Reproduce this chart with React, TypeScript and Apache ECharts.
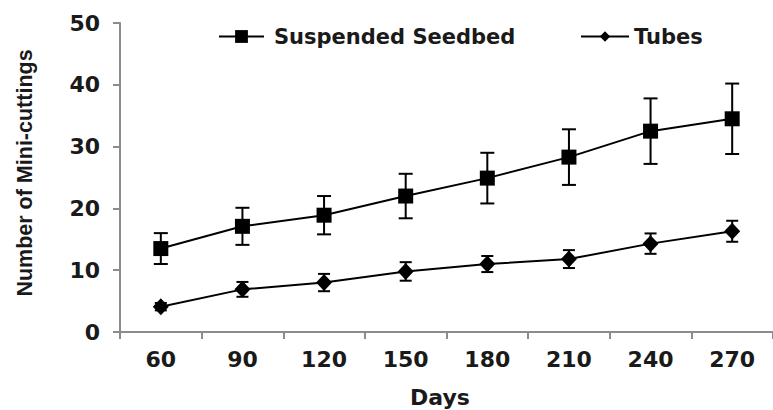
import React, { useEffect, useRef } from "react";
import * as echarts from "echarts";

const days = ["60", "90", "120", "150", "180", "210", "240", "270"];
const seedbed = [13.5, 17.1, 18.9, 22.0, 24.9, 28.3, 32.5, 34.5];
const seedbedErr = [2.5, 3.0, 3.1, 3.6, 4.1, 4.5, 5.3, 5.7];
const tubes = [4.1, 6.9, 8.0, 9.8, 11.0, 11.8, 14.3, 16.3];
const tubesErr = [0.6, 1.2, 1.4, 1.5, 1.3, 1.45, 1.65, 1.7];
const yTicks = { min: 0, max: 50, interval: 10 };
const names = { seedbed: "Suspended Seedbed", tubes: "Tubes", x: "Days", y: "Number of Mini-cuttings" };

const errorSeries = (vals: number[], errs: number[], hw: number) => ({
  type: "custom",
  silent: true,
  z: 3,
  encode: { x: 0, y: [1, 2] },
  data: vals.map((v, i) => [i, v - errs[i], v + errs[i]]),
  renderItem: (params: any, api: any) => {
    const x = api.value(0);
    const top = api.coord([x, api.value(2)]);
    const bot = api.coord([x, api.value(1)]);
    const st = { stroke: "#000", lineWidth: 2 };
    return {
      type: "group",
      children: [
        { type: "line", shape: { x1: top[0], y1: top[1], x2: bot[0], y2: bot[1] }, style: st },
        { type: "line", shape: { x1: top[0] - hw, y1: top[1], x2: top[0] + hw, y2: top[1] }, style: st },
        { type: "line", shape: { x1: bot[0] - hw, y1: bot[1], x2: bot[0] + hw, y2: bot[1] }, style: st },
      ],
    };
  },
});

export default function App() {
  const ref = useRef<HTMLDivElement>(null);
  useEffect(() => {
    const chart = echarts.init(ref.current!, null, { renderer: "svg" });
    const tickFont = { fontFamily: "DejaVu Sans", fontWeight: "bold", fontSize: 22, color: "#1a1a1a" };
    const legendText = { fontFamily: "DejaVu Sans", fontWeight: "bold", fontSize: 21, color: "#1a1a1a" };
    chart.setOption({
      animation: false,
      backgroundColor: "#fff",
      grid: { left: 120, top: 23, width: 662, height: 309 },
      legend: [
        {
          data: [names.seedbed],
          left: 218,
          top: 26,
          padding: 0,
          itemWidth: 45,
          itemHeight: 16,
          textStyle: { ...legendText, padding: [0, 0, 0, 5] },
          selectedMode: false,
        },
        {
          data: [names.tubes],
          left: 580,
          top: 26,
          padding: 0,
          itemWidth: 48,
          itemHeight: 13,
          textStyle: legendText,
          selectedMode: false,
        },
      ],
      xAxis: {
        type: "category",
        data: days,
        boundaryGap: true,
        axisLine: { lineStyle: { color: "#8c8c8c", width: 2 } },
        axisTick: { show: true, length: 7, interval: 0, lineStyle: { color: "#8c8c8c", width: 2 } },
        axisLabel: { ...tickFont, margin: 16, interval: 0 },
        splitLine: { show: false },
      },
      yAxis: {
        type: "value",
        min: yTicks.min,
        max: yTicks.max,
        interval: yTicks.interval,
        axisLine: { show: true, lineStyle: { color: "#8c8c8c", width: 2 } },
        axisTick: { show: true, length: 7, lineStyle: { color: "#8c8c8c", width: 2 } },
        axisLabel: { ...tickFont, margin: 20 },
        splitLine: { show: false },
      },
      graphic: [
        {
          type: "text",
          x: 25,
          y: 173,
          rotation: Math.PI / 2,
          style: {
            text: names.y,
            fontFamily: "Liberation Sans",
            fontWeight: "bold",
            fontSize: 21.5,
            fill: "#1a1a1a",
            textAlign: "center",
            textVerticalAlign: "middle",
            align: "center",
            verticalAlign: "middle",
          },
        },
        {
          type: "text",
          x: 440,
          y: 397,
          style: {
            text: names.x,
            fontFamily: "DejaVu Sans",
            fontWeight: "bold",
            fontSize: 22,
            fill: "#1a1a1a",
            textAlign: "center",
            textVerticalAlign: "middle",
            align: "center",
            verticalAlign: "middle",
          },
        },
      ],
      series: [
        errorSeries(seedbed, seedbedErr, 7),
        errorSeries(tubes, tubesErr, 6),
        {
          name: names.seedbed,
          type: "line",
          data: seedbed,
          symbol: "rect",
          symbolSize: 15,
          z: 4,
          itemStyle: { color: "#000" },
          lineStyle: { color: "#000", width: 2 },
        },
        {
          name: names.tubes,
          type: "line",
          data: tubes,
          symbol: "diamond",
          symbolSize: [16, 17],
          z: 4,
          itemStyle: { color: "#000" },
          lineStyle: { color: "#000", width: 2 },
        },
      ],
    });
    return () => chart.dispose();
  }, []);
  return <div ref={ref} style={{ position: "absolute", left: 0, top: 0, width: 773, height: 410 }} />;
}
